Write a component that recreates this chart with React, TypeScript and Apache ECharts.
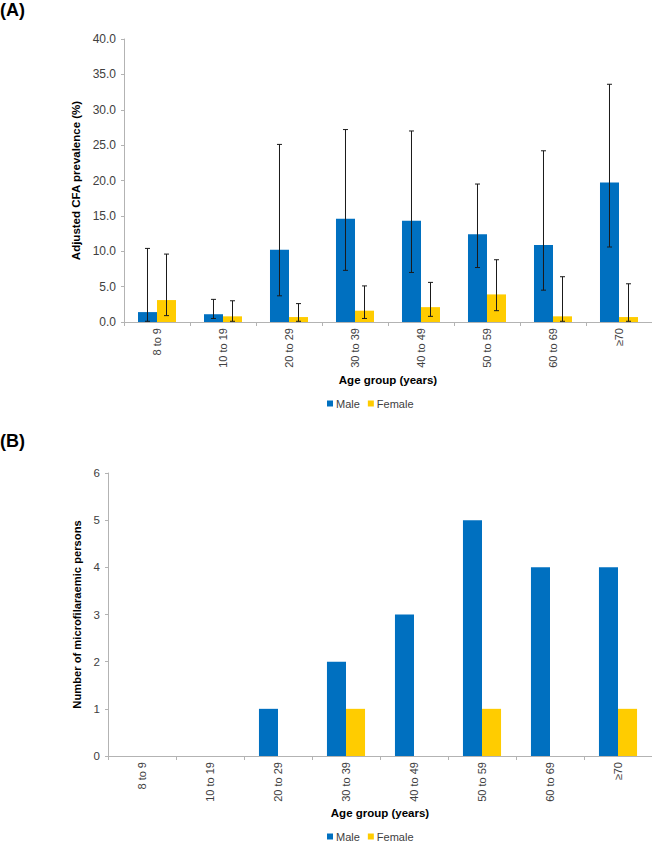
import React, { useEffect, useRef } from 'react';
import * as echarts from 'echarts';

const categories = ['8 to 9', '10 to 19', '20 to 29', '30 to 39', '40 to 49', '50 to 59', '60 to 69', '≥70'];

// Panel A: adjusted CFA prevalence (%) with confidence intervals
const prevMale = [1.4, 1.1, 10.2, 14.6, 14.3, 12.4, 10.9, 19.7];
const prevFemale = [3.1, 0.8, 0.7, 1.6, 2.1, 3.9, 0.8, 0.7];
const maleLow = [0.1, 0.5, 3.7, 7.3, 7.0, 7.7, 4.5, 10.6];
const maleHigh = [10.4, 3.2, 25.1, 27.2, 27.0, 19.5, 24.2, 33.6];
const femaleLow = [0.9, 0.1, 0.1, 0.5, 0.8, 1.6, 0.1, 0.1];
const femaleHigh = [9.6, 3.0, 2.6, 5.1, 5.6, 8.8, 6.4, 5.4];

// Panel B: number of microfilaraemic persons
const countMale = [0, 0, 1, 2, 3, 5, 4, 4];
const countFemale = [0, 0, 0, 1, 0, 1, 0, 1];

const FONT = "'Liberation Sans', Arial, Helvetica, sans-serif";
const BLUE = '#0070C0';
const GOLD = '#FFCC00';
const AXIS = '#b3b3b3';
const LABEL = '#404040';

export default function App() {
  const ref = useRef<HTMLDivElement>(null);

  useEffect(() => {
    if (!ref.current) return;
    const chart = echarts.init(ref.current, null, { renderer: 'svg' });
    const GAP = '42.4%';
    const halfFrac = (1 - 0.424) / 4;

    const errRender = (sign: number) => (params: any, api: any) => {
      const idx = api.value(0);
      const lo = api.coord([idx, api.value(1)]);
      const hi = api.coord([idx, api.value(2)]);
      const band = api.size([1, 0])[0];
      const x = lo[0] + sign * band * halfFrac;
      const c = 2.5;
      const st = { stroke: '#1a1a1a', lineWidth: 1 };
      return {
        type: 'group',
        children: [
          { type: 'line', shape: { x1: x, y1: lo[1], x2: x, y2: hi[1] }, style: st },
          { type: 'line', shape: { x1: x - c, y1: hi[1], x2: x + c, y2: hi[1] }, style: st },
          { type: 'line', shape: { x1: x - c, y1: lo[1], x2: x + c, y2: lo[1] }, style: st },
        ],
      };
    };

    const catAxis = (gridIndex: number, nameGap: number) => ({
      type: 'category',
      gridIndex,
      data: categories,
      name: 'Age group (years)',
      nameLocation: 'middle',
      nameGap,
      nameTextStyle: { fontFamily: FONT, fontWeight: 'bold', fontSize: 11.5, color: '#000' },
      axisLine: { lineStyle: { color: AXIS, width: 1 } },
      axisTick: { show: true, length: 4, lineStyle: { color: AXIS } },
      axisLabel: { rotate: 90, margin: 6, fontFamily: FONT, fontSize: 11, color: LABEL, interval: 0 },
      splitLine: { show: false },
    });

    const legendCommon = {
      data: ['Male', 'Female'],
      icon: 'rect',
      itemWidth: 6,
      itemHeight: 6,
      itemGap: 8,
      textStyle: { fontFamily: FONT, fontSize: 11, color: LABEL, padding: [0, 0, 0, -2] },
      padding: 0,
    };

    chart.setOption({
      animation: false,
      backgroundColor: '#fff',
      textStyle: { fontFamily: FONT },
      graphic: [
        { type: 'text', left: 0, top: 1, style: { text: '(A)', font: `bold 18px ${FONT}`, fill: '#000' } },
        { type: 'text', left: 0, top: 432, style: { text: '(B)', font: `bold 18px ${FONT}`, fill: '#000' } },
      ],
      legend: [
        { ...legendCommon, left: 327, top: 398 },
        { ...legendCommon, left: 327, top: 831 },
      ],
      grid: [
        { left: 124, top: 39, width: 528, height: 283 },
        { left: 108, top: 473, width: 544, height: 283 },
      ],
      xAxis: [catAxis(0, 52), catAxis(1, 51)],
      yAxis: [
        {
          type: 'value',
          gridIndex: 0,
          min: 0,
          max: 40,
          interval: 5,
          name: 'Adjusted CFA prevalence (%)',
          nameLocation: 'middle',
          nameGap: 32,
          nameTextStyle: { fontFamily: FONT, fontWeight: 'bold', fontSize: 11.5, color: '#000' },
          axisLine: { show: true, lineStyle: { color: AXIS } },
          axisTick: { show: true, length: 3, lineStyle: { color: AXIS } },
          axisLabel: { margin: 8, fontFamily: FONT, fontSize: 12, color: LABEL, formatter: (v: number) => v.toFixed(1) },
          splitLine: { show: false },
        },
        {
          type: 'value',
          gridIndex: 1,
          min: 0,
          max: 6,
          interval: 1,
          name: 'Number of microfilaraemic persons',
          nameLocation: 'middle',
          nameGap: 17,
          nameTextStyle: { fontFamily: FONT, fontWeight: 'bold', fontSize: 11.2, color: '#000' },
          axisLine: { show: true, lineStyle: { color: AXIS } },
          axisTick: { show: true, length: 3, lineStyle: { color: AXIS } },
          axisLabel: { margin: 8, fontFamily: FONT, fontSize: 11.5, color: LABEL },
          splitLine: { show: false },
        },
      ],
      series: [
        {
          name: 'Male', type: 'bar', xAxisIndex: 0, yAxisIndex: 0, data: prevMale,
          barGap: '0%', barCategoryGap: GAP, itemStyle: { color: BLUE },
        },
        {
          name: 'Female', type: 'bar', xAxisIndex: 0, yAxisIndex: 0, data: prevFemale,
          barGap: '0%', barCategoryGap: GAP, itemStyle: { color: GOLD },
        },
        {
          name: 'Male CI', type: 'custom', xAxisIndex: 0, yAxisIndex: 0,
          renderItem: errRender(-1),
          encode: { x: 0, y: [1, 2] },
          data: categories.map((_, i) => [i, maleLow[i], maleHigh[i]]),
          z: 10,
        },
        {
          name: 'Female CI', type: 'custom', xAxisIndex: 0, yAxisIndex: 0,
          renderItem: errRender(1),
          encode: { x: 0, y: [1, 2] },
          data: categories.map((_, i) => [i, femaleLow[i], femaleHigh[i]]),
          z: 10,
        },
        {
          name: 'Male', type: 'bar', xAxisIndex: 1, yAxisIndex: 1, data: countMale,
          barGap: '0%', barCategoryGap: '44%', itemStyle: { color: BLUE },
        },
        {
          name: 'Female', type: 'bar', xAxisIndex: 1, yAxisIndex: 1, data: countFemale,
          barGap: '0%', barCategoryGap: '44%', itemStyle: { color: GOLD },
        },
      ],
    });

    return () => chart.dispose();
  }, []);

  return (
    <div
      ref={ref}
      style={{ position: 'fixed', left: 0, top: 0, width: 652, height: 841, background: '#fff' }}
    />
  );
}
